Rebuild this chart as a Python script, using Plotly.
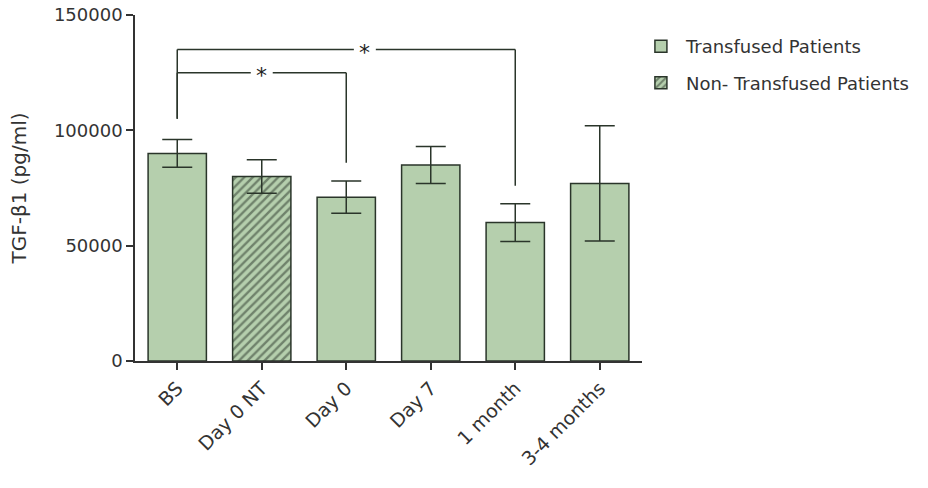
import plotly.graph_objects as go

categories = ["BS", "Day 0 NT", "Day 0", "Day 7", "1 month", "3-4 months"]
means = [90000, 80000, 71000, 85000, 60000, 77000]
errors = [6000, 7300, 7000, 8000, 8200, 25000]
transfused_idx = [0, 2, 3, 4, 5]
nontransfused_idx = [1]
y_ticks = [0, 50000, 100000, 150000]

# significance brackets: (left cat, right cat, bar height, left leg bottom, right leg bottom, star x offset)
brackets = [
    ("BS", "Day 0", 125000, 105000, 86000, 0.0),
    ("BS", "1 month", 135000, 105000, 76000, 0.22),
]

fill = "#b5cfad"
edge = "#2a352a"
font_family = "DejaVu Sans"

fig = go.Figure()
fig.add_trace(go.Bar(
    x=[categories[i] for i in transfused_idx],
    y=[means[i] for i in transfused_idx],
    error_y=dict(type="data", array=[errors[i] for i in transfused_idx],
                 color=edge, thickness=1.5, width=15),
    marker=dict(color=fill, line=dict(color=edge, width=1.5)),
    width=0.69, name="Transfused Patients", legendgroup="t",
))
fig.add_trace(go.Bar(
    x=[categories[i] for i in nontransfused_idx],
    y=[means[i] for i in nontransfused_idx],
    error_y=dict(type="data", array=[errors[i] for i in nontransfused_idx],
                 color=edge, thickness=1.5, width=15),
    marker=dict(color=fill, line=dict(color=edge, width=1.5),
                pattern=dict(shape="/", fgcolor=edge, bgcolor=fill, size=6, solidity=0.4)),
    width=0.69, name="Non- Transfused Patients", legendgroup="nt",
))

line_style = dict(color=edge, width=1.5)
for left, right, h, lb, rb, off in brackets:
    li = categories.index(left)
    ri = categories.index(right)
    mid = (li + ri) / 2 + off
    gap = 0.13
    fig.add_shape(type="line", xref="x", yref="y", x0=li, x1=li, y0=lb, y1=h, line=line_style)
    fig.add_shape(type="line", xref="x", yref="y", x0=li, x1=mid - gap, y0=h, y1=h, line=line_style)
    fig.add_shape(type="line", xref="x", yref="y", x0=mid + gap, x1=ri, y0=h, y1=h, line=line_style)
    fig.add_shape(type="line", xref="x", yref="y", x0=ri, x1=ri, y0=h, y1=rb, line=line_style)
    fig.add_annotation(x=mid, y=h, xref="x", yref="y", text="*", showarrow=False, yshift=-3,
                       font=dict(size=22, color="#222", family=font_family))

fig.update_layout(
    width=928, height=488,
    margin=dict(l=135, r=286, t=15, b=127),
    paper_bgcolor="white", plot_bgcolor="white",
    barmode="overlay",
    font=dict(family=font_family, color="#333", size=18),
    showlegend=True,
    legend=dict(x=0.988, y=0.962, xanchor="left", yanchor="top",
                font=dict(size=18, color="#333"), itemwidth=40,
                bgcolor="rgba(0,0,0,0)", tracegroupgap=10),
    xaxis=dict(type="category", categoryorder="array", categoryarray=categories,
               range=[-0.5, 5.5], tickangle=-45, automargin=False,
               showline=True, linecolor="#333", linewidth=1.5,
               ticks="outside", ticklen=7, tickcolor="#333", tickwidth=1.5,
               tickfont=dict(size=19, color="#333"), showgrid=False, zeroline=False),
    yaxis=dict(range=[0, 150000], tickvals=y_ticks, ticktext=[str(v) for v in y_ticks],
               automargin=False,
               showline=True, linecolor="#333", linewidth=1.5,
               ticks="outside", ticklen=7, tickcolor="#333", tickwidth=1.5,
               tickfont=dict(size=18, color="#333"), showgrid=False, zeroline=False,
               title=dict(text="TGF-β1 (pg/ml)", font=dict(size=20, color="#333"), standoff=22)),
)

fig.write_html("out.html")
